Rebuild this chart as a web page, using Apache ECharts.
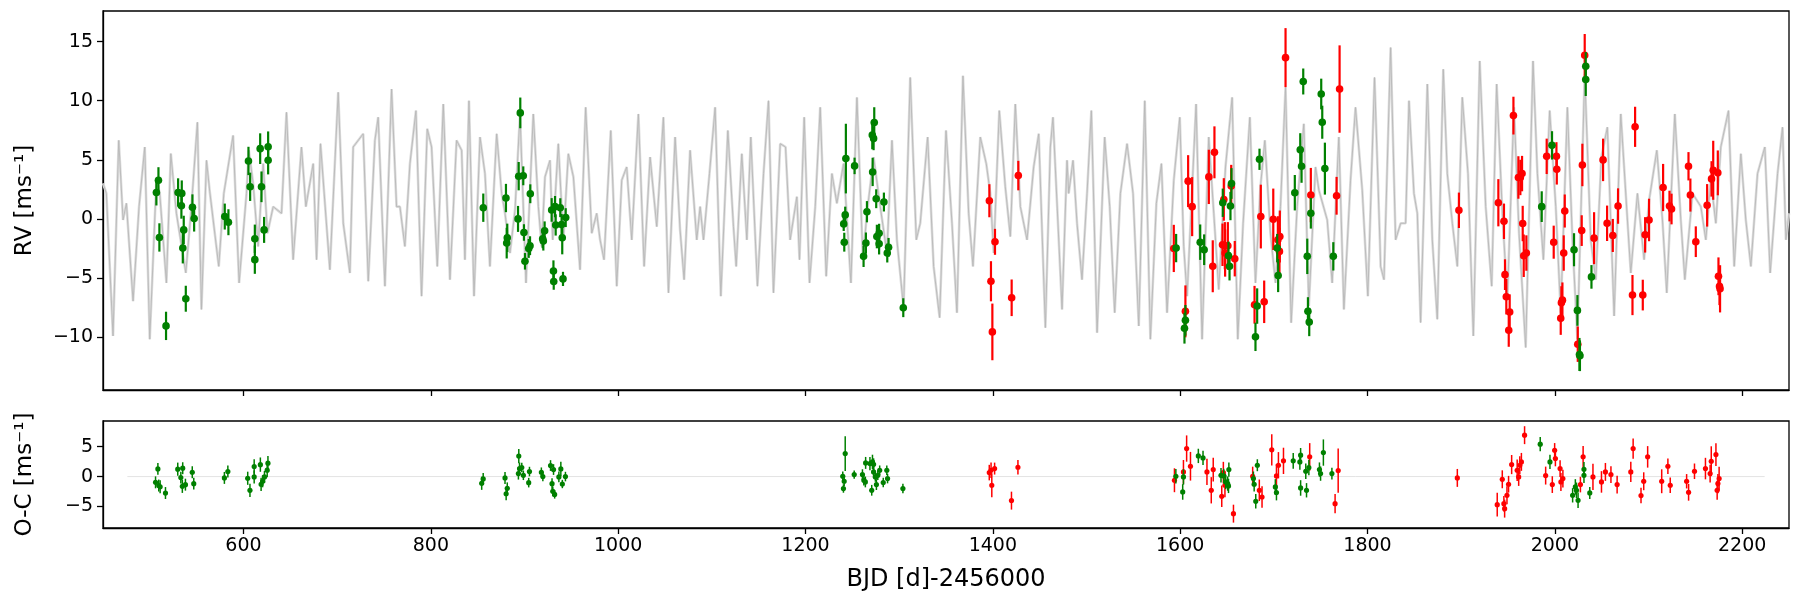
<!DOCTYPE html>
<html>
<head>
<meta charset="utf-8">
<script src="https://cdn.jsdelivr.net/npm/echarts@6/dist/echarts.min.js"></script>
<style>
  html, body { margin: 0; padding: 0; background: #fff; }
  #chart { width: 1800px; height: 600px; }
</style>
</head>
<body>
<div id="chart"></div>
<script>
// time axis ticks, BJD - 2456000
const xTicks = [600, 800, 1000, 1200, 1400, 1600, 1800, 2000, 2200];
const rvTicks = [-10, -5, 0, 5, 10, 15];
const ocTicks = [-5, 0, 5];

// model curve: [time, rv]
const modelCurve = [
    [450.1, 3.0], [453.6, 2.15], [460.7, -9.92], [466.8, 6.64], [471.4, -0.1], [475, 1.31], [482.1, -6.97], [488.5, 1.03],
    [494.6, 6.08], [499.9, -10.2], [507, 3.27], [510.6, 2.15], [517.7, -5.43], [522.4, 5.52], [528.4, 0.46], [538.4, -4.58],
    [544.4, 1.03], [550.8, 8.18], [555.1, -7.67], [560.5, 4.95], [564, 2.29], [573.6, -4.03], [579, 2.15], [588.9, 7.06],
    [595.3, -5.43], [603.2, 2.15], [605.7, 5.8], [610.3, 2.99], [615.6, -2.34], [621, 4.67], [625.6, -1.22], [631.7, 1.03],
    [640.6, 0.46], [645.9, 9.02], [653, -3.46], [661.9, 6.08], [666.6, 1.03], [674.4, 4.67], [678, -3.46], [682.2, 6.36],
    [692.2, -4.31], [701.1, 10.71], [706.5, -0.38], [713.6, -4.59], [717.1, 6.08], [727.8, 7.2], [733.2, -5.29], [740.3, 6.64],
    [743.8, 8.6], [751, -5.71], [758.1, 10.99], [763.4, 1.03],
    [767, 1.03], [772.3, -2.34], [777.7, 4.67], [784.1, 9.16], [790.1, -6.55], [796.2, 7.62], [800.8, 6.08], [806.9, -4.03],
    [813.3, 9.72], [820.4, -5.15], [827.5, 6.64], [832.9, 5.8], [836.4, -3.46], [840.7, 10.0], [846.1, -6.55], [852.5, 6.92],
    [857.8, 3.83], [863.1, -4.03], [870.3, 7.2], [875.6, 2.15], [879.2, 0.46], [884.5, -2.9], [889.9, 0.75], [895.2, 8.88],
    [901.6, -5.43], [909.4, 8.88], [914.8, 1.03], [918.3, -2.34], [921.9, 3.55], [927.2, 4.95], [930.1, -1.78], [936.1, 6.36],
    [941.5, -1.78], [946.8, 5.51], [952.2, 3.55], [959.3, -4.31], [965.3, 9.44], [971.8, -1.22], [977.1, 0.46], [980.7, -1.78],
    [984.9, -3.46], [992.1, 7.48], [998.5, -5.71], [1003.8, 3.27], [1009.1, 4.39], [1014.5, -1.78], [1021.6, 8.88], [1027.7, -4.03],
    [1034.1, 5.23], [1041.2, -0.66], [1048.3, 8.6], [1053.7, -6.27], [1060.8, 6.92], [1066.1, -0.94], [1070.4, -5.15], [1076.8, 5.8],
    [1083.9, -1.78],
    [1087.5, 1.03], [1091.1, -1.78], [1097.5, 3.83], [1103.5, 9.44], [1109.6, -6.55], [1117.1, 7.48], [1123.1, -0.66], [1126, -4.03],
    [1132, 5.51], [1137.4, -1.78], [1141.6, 6.92], [1148.7, -5.71], [1155.2, 3.83], [1160.5, 10.0], [1165.8, -6.27], [1173, 6.36],
    [1178.7, 6.08], [1183.6, -1.78], [1190.8, 1.87], [1193.6, -3.46], [1198.6, 8.6], [1204.3, -5.43], [1210.4, 1.03], [1215.7, 9.44],
    [1222.1, -4.87], [1228.2, 3.83], [1233.5, 1.31], [1240.6, 4.67], [1248.5, -5.43], [1254.9, 10.28], [1261.3, -3.46], [1265.6, 0.46],
    [1272.7, 5.23], [1279.8, 1.03], [1286.9, -2.9], [1292.3, 6.64], [1297.6, -1.78], [1304.7, -7.53], [1311.8, 11.97], [1318.3, -1.78],
    [1322.5, -0.38], [1330.4, 6.92], [1336.8, -4.03], [1343.2, -8.37], [1350, 7.48], [1356.4, -0.38], [1361.7, -7.95], [1368.1, 12.11],
    [1374.2, 0.46], [1378.8, -4.03], [1386.6, 6.92], [1393, 4.67], [1397.3, 2.15], [1400.9, -2.9], [1406.9, 9.16], [1413.3, 2.71],
    [1418.7, -1.5], [1424, 9.72], [1429.4, 1.03], [1436.5, -1.78], [1443.6, 4.39], [1449, 7.2], [1456.1, -9.22],
    [1461.4, 6.08], [1464.2, 8.6], [1466.7, 4.39], [1473.9, -7.67], [1479.2, 4.95], [1481, 2.15], [1485.6, 4.95], [1489.9, -0.38],
    [1495.2, -5.15], [1500.6, 2.15], [1505.2, 9.16], [1511.3, -9.64], [1519.4, 6.92], [1524.8, 1.03], [1530.1, -7.95], [1536.2, 2.15],
    [1543.3, 6.36], [1549.7, 2.15], [1555.8, -9.08], [1562.2, 10.0], [1568.2, -10.2], [1574.6, 1.31], [1580, 4.67], [1586, -7.95],
    [1593.2, 3.27], [1599.6, 8.6], [1603.8, -2.34], [1607.4, -6.55], [1617, 9.72], [1623.4, -10.2], [1630.5, 6.92], [1635.9, 0.46],
    [1641.2, -5.99], [1648.4, 4.39], [1655.5, 10.28], [1661.5, -10.2], [1667.2, -0.38], [1674.4, 8.6], [1680.4, -5.43], [1685.7, 2.71],
    [1690.4, 6.64], [1696.4, -1.22], [1701.8, -5.43], [1707.1, 1.03], [1712.5, 11.13], [1718.5, -8.8], [1724.9, 1.03], [1732, 8.04],
    [1737.4, -7.39], [1744.5, 4.39], [1748.1, 2.43], [1757, -0.1], [1762.3, -5.43], [1769.4, 6.92], [1774.8, -7.67], [1781.9, 3.27],
    [1787.2, 9.44], [1794.4, 2.43], [1800.4, -6.55], [1807.5, 11.97], [1813.2, -1.78],
    [1814, -4.03], [1817.6, -5.15], [1824.7, 14.5], [1830, -1.78], [1835.4, -0.38], [1840.7, -0.38], [1844.3, 10.0], [1849.6, 2.15],
    [1853.2, 0.46], [1856.7, -8.79], [1863.9, 11.41], [1869.2, -1.78], [1874.5, -8.51], [1880.9, 12.67], [1885.2, 3.83], [1890.6, -0.38],
    [1895.9, -4.03], [1901.2, 10.29], [1907.3, 3.83], [1913, -9.92], [1919.8, 13.37], [1926.2, 1.03], [1932.6, -5.71], [1937.9, 11.41],
    [1944, 0.46], [1949.3, -6.83], [1956.4, 9.44], [1961.8, -1.22], [1968.9, -10.9], [1976.7, 13.37], [1981.4, 3.83], [1987.8, -3.46],
    [1994.5, 9.16], [2001, 1.03], [2006.3, -7.95], [2013.4, 9.44], [2018.8, -1.78], [2024.1, -10.2], [2031.9, 12.25], [2038.3, -1.78],
    [2043.7, -5.15], [2049.7, 5.23], [2056.1, 7.76], [2063.3, -8.23], [2070.4, 8.88], [2077.5, -0.1], [2081.1, -4.59], [2088.2, 2.15],
    [2095.3, -3.46], [2100.7, 1.59], [2108.9, 5.8], [2114.9, -0.1], [2119.5, -6.27], [2128.1, 8.88], [2134.5, -0.1], [2138.8, -5.15],
    [2147, 2.15], [2155.9, 1.03], [2161.2, -1.78], [2166.5, 3.27], [2171.9, -0.38], [2177.2, 6.08], [2185.4, 9.16], [2191.5, -4.03],
    [2198.6, 5.51], [2203.9, -0.1], [2209.3, -4.03], [2216.4, 3.83], [2224.2, 6.08], [2229.9, -4.59], [2237.8, 3.83], [2243.1, 7.76],
    [2246.7, -1.78], [2250, 0.46]
];

// RV measurements: [time, rv, error]
const rvGreen = [
    [509.2, 3.27, 1.1], [507, 2.23, 1.1], [510.2, -1.58, 1.2], [517.3, -9.07, 1.2], [530.2, 2.23, 1.2], [534.1, 2.15, 1.1],
    [533.7, 1.11, 1.1], [536.2, -0.94, 1.2], [535.2, -2.48, 1.3], [538.4, -6.77, 1.1], [545.5, 0.97, 1.1], [547.3, 0.02, 1.1],
    [580, 0.19, 1.1], [583.9, -0.29, 1.1], [605.3, 4.9, 1.2], [607.1, 2.71, 1.2], [612.1, -1.69, 1.2], [612.1, -3.46, 1.2],
    [617.8, 5.94, 1.3], [619.2, 2.71, 1.3], [622, -0.94, 1.1], [626.3, 6.1, 1.3], [626.3, 4.96, 1.2],
    [856, 0.94, 1.2], [880.2, 1.76, 1.2], [881.6, -1.61, 1.2], [881, -2.06, 1.3], [893.1, -0.01, 1.1], [895.5, 8.97, 1.3],
    [893.8, 3.61, 1.2], [898.7, 3.64, 0.8], [899.4, -1.16, 0.7], [900.5, -3.6, 0.7], [904.5, -2.51, 0.8], [905.9, -2.28, 0.8],
    [906.2, 2.12, 0.8], [919.4, -1.69, 0.8], [921.5, -1.02, 0.8], [920.1, -1.89, 0.8], [929, 0.75, 1.0], [932.6, 1.03, 0.9],
    [930.9, -4.42, 0.9], [931.2, -5.31, 0.7], [933.3, -0.52, 0.9], [938.2, 0.94, 0.8], [939.6, -0.49, 0.9], [940.3, -1.61, 1.4],
    [941.1, -5.09, 0.6], [944, 0.1, 0.8],
    [1243.1, 5.1, 2.95], [1252.4, 4.48, 0.7], [1242.4, 0.33, 0.7], [1240.8, -0.43, 0.6], [1241.4, -1.98, 0.8], [1265.6, 0.6, 0.9],
    [1264.5, -2.06, 0.9], [1262, -3.18, 0.9], [1273.4, 8.15, 1.3], [1271.3, 7.09, 1.2], [1272.7, 6.81, 1.0], [1271.7, 3.97, 1.2],
    [1275.5, 1.7, 0.8], [1283.7, 1.42, 0.8], [1276.2, -1.5, 1.0], [1278.6, -1.22, 0.8], [1278.6, -2.12, 0.9], [1288.7, -2.42, 0.8],
    [1287.3, -2.9, 0.8], [1304.4, -7.53, 0.8],
    [1595.7, -2.48, 1.2], [1605.6, -8.6, 1.3], [1604.6, -9.27, 1.3], [1621.4, -1.98, 1.5], [1625.6, -2.62, 1.3], [1645.5, 1.36, 1.2],
    [1654.8, 2.99, 1.3], [1653.7, 1.08, 1.2], [1651.6, -3.13, 1.2], [1652.7, -4.02, 1.2], [1680.4, -10.0, 1.2], [1682.2, -7.39, 1.5],
    [1684.7, 5.04, 0.9], [1703.6, -2.48, 1.2], [1704.6, -4.81, 1.4], [1722.4, 2.21, 1.5], [1728.2, 5.85, 1.4], [1729.6, 4.45, 1.4],
    [1731.4, 11.63, 1.1], [1735.7, -3.18, 1.5], [1736.4, -7.84, 1.2], [1737.8, -8.74, 1.2], [1739.5, 0.47, 1.3], [1750.6, 10.57, 1.3],
    [1751.7, 8.18, 1.4], [1754.5, 4.25, 2.2], [1763.5, -3.18, 1.2],
    [1986, 1.03, 1.3], [1997, 6.22, 1.2], [2020.5, -2.62, 1.4], [2024.1, -7.76, 1.3], [2026.3, -11.49, 1.4], [2026.8, -11.6, 1.3],
    [2033, 12.92, 1.2], [2033, 11.8, 1.4], [2039.1, -4.92, 1.0]
];
const rvRed = [
    [1396.3, 1.53, 1.4], [1402.3, -1.95, 1.1], [1398, -5.29, 1.7], [1399.5, -9.58, 2.4], [1420.1, -6.69, 1.55], [1427.2, 3.66, 1.25],
    [1593.2, -2.51, 2.0], [1605.6, -7.84, 2.2], [1608.5, 3.19, 2.2], [1612.8, 1.03, 2.5], [1630.6, 3.55, 2.3], [1636.6, 5.63, 2.2],
    [1634.8, -4.02, 2.2], [1646.6, 1.64, 1.8], [1645.2, -2.2, 1.8], [1647.7, -2.28, 2.0], [1650.9, -2.28, 2.0], [1648, -2.9, 2.0],
    [1654.5, 2.77, 1.8], [1658.3, -3.38, 1.5], [1679.4, -7.28, 1.6], [1689.7, -7.03, 1.8], [1686.1, 0.19, 2.7], [1699.4, -0.04, 2.6],
    [1706.4, -1.5, 2.2], [1704.3, -1.78, 2.0], [1706, -2.76, 2.0], [1712.5, 13.65, 2.5], [1739.5, 2.01, 2.3], [1767, 1.95, 1.6],
    [1770.2, 10.99, 3.7],
    [1897.6, 0.72, 1.5], [1939.7, 1.36, 2.0], [1945.7, -0.21, 1.5], [1946.8, -4.73, 1.3], [1948.2, -6.6, 1.5], [1951.8, -7.9, 1.5],
    [1950.8, -9.44, 1.4], [1955.8, 8.74, 1.6], [1961.1, 3.5, 1.8], [1963.2, 3.5, 1.5], [1965, 3.83, 1.5], [1965.7, -0.4, 1.5],
    [1966.8, -3.13, 1.8], [1969.6, -2.9, 1.5], [1991.3, 5.29, 1.5], [1998.8, -1.98, 1.4], [2001.7, 5.29, 1.2], [2002.1, 4.2, 1.3],
    [2010.6, 0.66, 1.4], [2009.5, -2.9, 1.5], [2008.1, -6.89, 1.5], [2007, -7.11, 1.4], [2006.3, -8.43, 1.4], [2024.5, -10.62, 1.5],
    [2028.7, -1.0, 1.3], [2029.4, 4.56, 1.8], [2031.9, 13.85, 1.8], [2041.9, -1.64, 2.2], [2051.5, 4.99, 1.8], [2055.8, -0.38, 1.5],
    [2061.9, -1.41, 1.4], [2067.5, 1.08, 1.5], [2082.9, -6.46, 1.7], [2085.7, 7.79, 1.7], [2093.9, -6.46, 1.3], [2096.4, -1.36, 1.5],
    [2100.6, -0.1, 1.8], [2115.6, 2.65, 2.0], [2122.4, 1.08, 1.3], [2124.6, 0.83, 1.3], [2142.7, 4.45, 1.2], [2144.7, 2.01, 1.4],
    [2150.5, -1.94, 1.3], [2162.6, 1.14, 1.8], [2167.3, 3.38, 1.5], [2169.1, 4.11, 2.5], [2174, 3.89, 1.9], [2174.7, -4.87, 1.6],
    [2175.8, -5.71, 1.6], [2176.4, -5.93, 2.0]
];

// residuals O-C: [time, residual, error]
const ocGreen = [
    [506.1, -0.96, 1.0], [508.6, 1.29, 1.0], [509.5, -1.5, 1.0], [511, -1.7, 1.1], [516.7, -2.75, 1.0], [529.8, 1.24, 1.1],
    [533.1, -0.17, 1.0], [535.1, 1.4, 1.0], [534.7, -1.63, 1.1], [538, -1.35, 1.0], [545.3, 0.73, 1.0], [546.9, -1.18, 1.0],
    [579.6, -0.22, 1.0], [583.3, 0.84, 1.0], [604.5, -0.28, 1.1], [606.9, -2.3, 1.1], [611.4, 1.69, 1.2], [611.4, -0.06, 1.1],
    [618, 2.0, 1.2], [618.8, -1.29, 1.1], [620.4, -0.79, 1.0], [622.4, -0.06, 1.0], [625.3, 1.07, 1.2], [626.1, 2.25, 1.2],
    [854.3, -1.12, 1.1], [855.9, -0.39, 1.0], [879.2, -0.22, 1.0], [880.4, -2.87, 1.1], [881.6, -1.97, 1.0], [893.5, 0.5, 1.0],
    [893.9, 3.43, 1.2], [894.7, 1.35, 1.0], [897.1, 1.52, 0.8], [898.8, 0.22, 0.8], [904.5, -1.01, 0.8], [905.3, 0.84, 0.8],
    [918, 0.73, 0.8], [919.6, 0, 0.8], [927.8, 1.85, 0.9], [929.4, -1.18, 0.9], [930.2, -2.47, 0.8], [932.2, -2.98, 0.7],
    [931, 1.18, 0.9], [936.7, -0.06, 0.9], [938.8, 1.29, 1.2], [940.4, -1.24, 0.7], [943.7, 0, 0.8],
    [1242.4, 3.85, 2.9], [1239.8, 0.06, 0.8], [1241.3, -0.78, 0.8], [1240.5, -2.0, 0.7], [1252, 0.33, 0.7], [1260.8, 0.33, 0.9],
    [1262.3, -0.6, 0.9], [1263.9, -0.9, 0.9], [1264.2, 2.29, 1.0], [1268.8, 2.18, 1.1], [1271.5, 2.46, 1.2], [1272.7, 2.06, 1.0],
    [1270.7, -2.29, 0.9], [1272.7, 0.78, 1.0], [1274.6, -0.06, 0.8], [1275.7, -1.34, 0.9], [1277.2, 0.22, 0.8], [1279.2, 1.06, 0.8],
    [1283, -1.0, 0.8], [1286.8, 1.06, 0.8], [1287.6, -0.33, 0.8], [1304, -2.0, 0.8],
    [1595.4, 0.06, 1.2], [1603.5, -0.06, 1.3], [1602.7, -2.57, 1.3], [1619.4, 3.46, 1.2], [1624.4, 3.13, 1.2], [1643.6, 0.22, 1.2],
    [1646.5, 0.11, 1.2], [1648.6, -0.9, 1.2], [1650.7, -1.17, 1.2], [1652, 1.17, 1.2], [1651.6, -1.56, 1.2], [1678.2, -0.34, 1.2],
    [1679, -1.28, 1.2], [1680.7, -4.13, 1.2], [1682.4, 1.9, 1.0], [1701.6, -1.73, 1.3], [1702.8, -2.68, 1.3], [1720.7, 2.63, 1.3],
    [1727.8, 2.46, 1.3], [1728.6, 3.58, 1.2], [1728.6, -1.9, 1.3], [1734.1, 0.89, 1.3], [1734.9, -2.29, 1.2], [1737.4, 1.51, 1.3],
    [1748.7, 1.17, 1.2], [1749.9, 0.5, 1.2], [1752.9, 4.02, 2.2], [1762, 0.5, 1.0],
    [1984.4, 5.42, 1.2], [1994.8, 2.46, 1.2], [2019, -3.13, 1.2], [2021.9, -1.73, 1.3], [2023.1, -2.29, 1.3], [2024.8, -3.97, 1.3],
    [2031.1, 1.23, 1.2], [2031.1, 0.22, 1.3], [2037.3, -2.74, 1.0]
];
const ocRed = [
    [1396.2, 0.67, 1.3], [1398.1, 1.06, 1.3], [1401.9, 1.34, 1.0], [1398.9, -1.45, 2.0], [1419.9, -4.02, 1.5], [1426.8, 1.56, 1.2],
    [1593.9, -0.61, 2.0], [1603.5, 0.78, 2.0], [1606.9, 4.69, 2.2], [1611, 1.73, 2.4], [1628.6, 0.78, 2.2], [1633.2, -2.29, 2.2],
    [1635.3, 1.17, 2.0], [1644.4, -3.3, 1.8], [1646.1, 0.67, 1.8], [1647.8, -1.45, 2.0], [1656.9, -6.2, 1.5], [1677.4, 0.06, 1.6],
    [1684.5, -2.29, 1.8], [1687.4, -3.41, 1.8], [1697.8, 4.47, 2.6], [1702.8, 0.11, 2.0], [1704.9, 1.9, 2.2], [1710.3, 2.63, 2.2],
    [1738.3, 3.3, 2.3], [1765.4, -4.53, 1.6], [1768.7, 1.0, 3.7],
    [1895.9, -0.22, 1.5], [1938.5, -4.69, 2.0], [1943.9, -0.45, 1.5], [1945.6, -4.53, 1.3], [1946.4, -5.36, 1.5], [1948.9, -3.13, 1.5],
    [1950.6, -1.28, 1.4], [1953.9, 2.01, 1.6], [1959.8, 1.06, 1.8], [1961.4, -0.06, 1.5], [1962.6, 1.9, 1.5], [1964.3, 2.46, 1.5],
    [1967.7, 6.93, 1.5], [1990.2, 0.17, 1.5], [1997.3, -1.34, 1.4], [1999.8, 4.41, 1.2], [2000.6, 3.02, 1.3], [2005.6, 1.34, 1.4],
    [2006.5, -0.89, 1.5], [2008.6, -0.34, 1.5], [2030.2, 3.3, 1.8], [2027.3, -1.34, 1.3], [2040.7, -0.06, 2.2], [2049.8, -0.89, 1.8],
    [2054, 0.78, 1.5], [2059.9, 0.34, 1.4], [2066.5, -1.34, 1.5], [2081.1, 0.78, 1.7], [2083.6, 4.69, 1.7], [2092, -3.18, 1.3],
    [2094.9, -0.78, 1.5], [2099.1, 3.3, 1.8], [2114.1, -0.78, 2.0], [2120.7, 1.73, 1.3], [2123.2, -1.45, 1.3], [2140.7, -0.78, 1.2],
    [2142.8, -2.63, 1.4], [2149.1, 0.89, 1.3], [2160.8, 1.34, 1.8], [2165.8, 0.5, 1.5], [2167, 2.57, 2.5], [2172, 3.69, 1.9],
    [2173.3, -2.29, 1.6], [2174.1, -1.17, 1.6], [2175.4, -0.34, 2.0]
];
// span of the residual zero line
const zeroLine = [[476, 0], [2224, 0]];

const tickFont = {fontFamily: 'DejaVu Sans', fontSize: 19, color: '#000'};
function minusFmt(v) {
    return v < 0 ? '\u2212' + Math.abs(v) : String(v);
}

function errorBars(radius, barWidth, color) {
    return function (params, api) {
        let x = api.value(0), y = api.value(1), e = api.value(2);
        let p = api.coord([x, y]);
        let lo = api.coord([x, y - e]);
        let hi = api.coord([x, y + e]);
        return {
            type: 'group',
            children: [
                {type: 'line', shape: {x1: p[0], y1: hi[1], x2: p[0], y2: lo[1]}, style: {stroke: color, lineWidth: barWidth}},
                {type: 'circle', shape: {cx: p[0], cy: p[1], r: radius}, style: {fill: color}}
            ]
        };
    };
}

let chart = echarts.init(document.getElementById('chart'), null, {renderer: 'canvas'});

let xAxisBase = function (gridIndex, showLabels) {
    return {
        type: 'value',
        gridIndex: gridIndex,
        min: 450,
        max: 2250,
        axisLine: {show: true, onZero: false, lineStyle: {color: '#000', width: 1.3}},
        axisTick: {show: true, length: 6, lineStyle: {color: '#000', width: 1.3}, customValues: xTicks},
        axisLabel: {show: showLabels, margin: 9, customValues: xTicks, formatter: minusFmt, ...tickFont},
        splitLine: {show: false}
    };
};

let option = {
    animation: false,
    grid: [
        {left: 103, right: 11, top: 11, height: 379, show: true, borderColor: '#000', borderWidth: 1.3},
        {left: 103, right: 11, top: 421, height: 107, show: true, borderColor: '#000', borderWidth: 1.3}
    ],
    xAxis: [
        xAxisBase(0, false),
        Object.assign(xAxisBase(1, true), {
            name: 'BJD [d]-2456000',
            nameLocation: 'middle',
            nameGap: 40,
            nameTextStyle: {fontFamily: 'DejaVu Sans', fontSize: 24, color: '#000'}
        })
    ],
    yAxis: [
        {
            type: 'value',
            gridIndex: 0,
            min: -14.5,
            max: 17.6,
            name: 'RV [ms\u207B\u00B9]',
            nameLocation: 'middle',
            nameRotate: 90,
            nameGap: 66,
            nameTextStyle: {fontFamily: 'DejaVu Sans', fontSize: 23, color: '#000'},
            axisLine: {show: true, lineStyle: {color: '#000', width: 1.3}},
            axisTick: {show: true, length: 6, lineStyle: {color: '#000', width: 1.3}, customValues: rvTicks},
            axisLabel: {margin: 10, customValues: rvTicks, formatter: minusFmt, ...tickFont},
            splitLine: {show: false}
        },
        {
            type: 'value',
            gridIndex: 1,
            min: -8.6,
            max: 9.3,
            name: 'O-C [ms\u207B\u00B9]',
            nameLocation: 'middle',
            nameRotate: 90,
            nameGap: 66,
            nameTextStyle: {fontFamily: 'DejaVu Sans', fontSize: 23, color: '#000'},
            axisLine: {show: true, lineStyle: {color: '#000', width: 1.3}},
            axisTick: {show: true, length: 6, lineStyle: {color: '#000', width: 1.3}, customValues: ocTicks},
            axisLabel: {margin: 10, customValues: ocTicks, formatter: minusFmt, ...tickFont},
            splitLine: {show: false}
        }
    ],
    series: [
        {
            name: 'model band',
            type: 'line',
            xAxisIndex: 0,
            yAxisIndex: 0,
            data: modelCurve,
            showSymbol: false,
            lineStyle: {color: '#dcdcdc', width: 2.6},
            z: 1
        },
        {
            name: 'model',
            type: 'line',
            xAxisIndex: 0,
            yAxisIndex: 0,
            data: modelCurve,
            showSymbol: false,
            lineStyle: {color: '#b8b8b8', width: 0.9},
            z: 2
        },
        {
            name: 'RV red',
            type: 'custom',
            xAxisIndex: 0,
            yAxisIndex: 0,
            data: rvRed,
            encode: {x: 0, y: 1},
            renderItem: errorBars(3.8, 2.2, '#ff0000'),
            z: 3
        },
        {
            name: 'RV green',
            type: 'custom',
            xAxisIndex: 0,
            yAxisIndex: 0,
            data: rvGreen,
            encode: {x: 0, y: 1},
            renderItem: errorBars(3.8, 2.2, '#008000'),
            z: 4
        },
        {
            name: 'zero',
            type: 'line',
            xAxisIndex: 1,
            yAxisIndex: 1,
            data: zeroLine,
            showSymbol: false,
            lineStyle: {color: '#e3e3e3', width: 1},
            z: 1
        },
        {
            name: 'O-C red',
            type: 'custom',
            xAxisIndex: 1,
            yAxisIndex: 1,
            data: ocRed,
            encode: {x: 0, y: 1},
            renderItem: errorBars(2.6, 1.5, '#ff0000'),
            z: 3
        },
        {
            name: 'O-C green',
            type: 'custom',
            xAxisIndex: 1,
            yAxisIndex: 1,
            data: ocGreen,
            encode: {x: 0, y: 1},
            renderItem: errorBars(2.6, 1.5, '#008000'),
            z: 4
        }
    ]
};
chart.setOption(option);
</script>
</body>
</html>
